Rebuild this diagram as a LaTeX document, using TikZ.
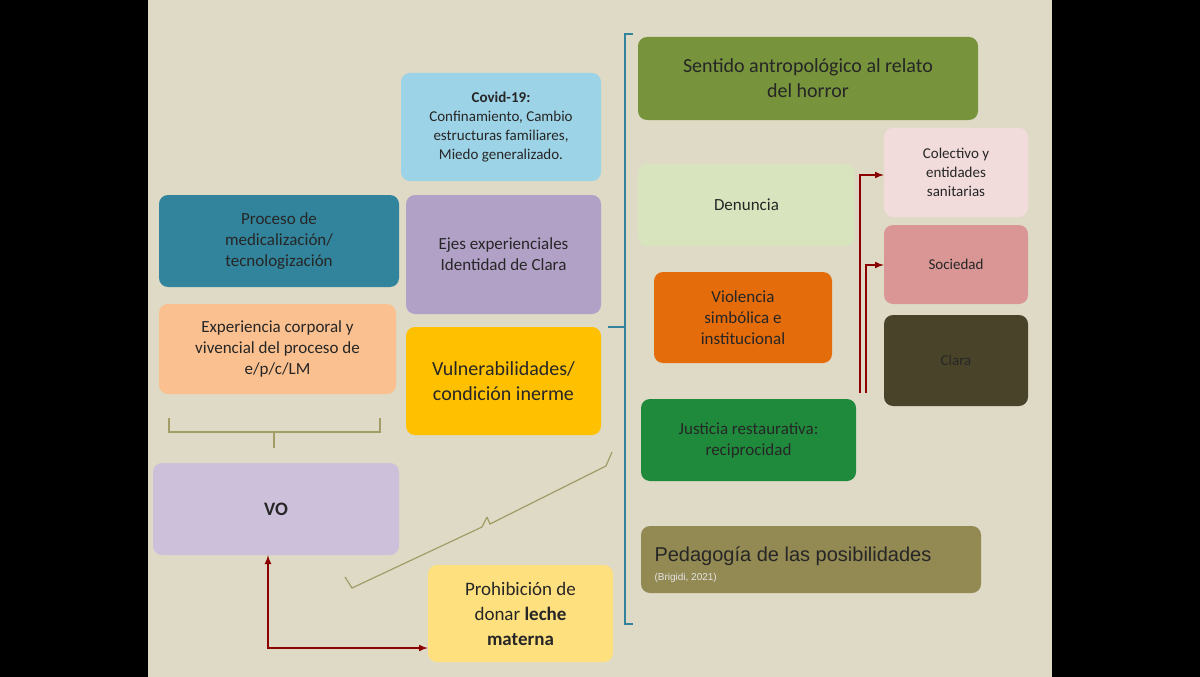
\documentclass[tikz,border=0pt]{standalone}
\usepackage{fontspec}
\setmainfont{Carlito}
\newfontfamily\arialf{Liberation Sans}
\begin{document}
\begin{tikzpicture}[x=1pt,y=-1pt,
  box/.style={rounded corners=9pt,draw=none,align=center,inner sep=2pt,font=\fontsize{17}{21}\selectfont,text=black!85},
  redarr/.style={draw=red!55!black,line width=2pt,-latex},
  brk/.style={draw=black!40!olive!60,line width=1.2pt}]
\fill[black] (0,0) rectangle (1200,677);
\fill[black!5!white!85!olive] (148,0) rectangle (1052,677);
\useasboundingbox (0,0) rectangle (1200,677);
\newcommand\bx[7]{\node[box,fill=#6,minimum width=#3-#1,minimum height=#4-#2,#7] (#5) at ({(#1+#3)/2},{(#2+#4)/2}) {};}
\definecolor{cblue}{HTML}{9DD3E6}\definecolor{cteal}{HTML}{31849B}
\definecolor{cpur}{HTML}{B2A1C7}\definecolor{cpeach}{HTML}{FBC08F}
\definecolor{cgold}{HTML}{FFC000}\definecolor{clav}{HTML}{CCC0DA}
\definecolor{cyel}{HTML}{FFE07F}\definecolor{colive}{HTML}{77933C}
\definecolor{cpale}{HTML}{D7E4BD}\definecolor{corange}{HTML}{E46C0A}
\definecolor{cgreen}{HTML}{1F8A3C}\definecolor{cped}{HTML}{938953}
\definecolor{cpink}{HTML}{F2DCDB}\definecolor{crose}{HTML}{D99694}
\definecolor{cdark}{HTML}{494429}\definecolor{cbg}{HTML}{DEDAC6}
\fill[cbg] (148,0) rectangle (1052,677);
\bx{401}{73}{601}{181}{covid}{cblue}{}
\node[font=\fontsize{15}{19}\selectfont,align=center,text=black!85] at (covid) {\textbf{Covid-19:}\\Confinamiento, Cambio\\estructuras familiares,\\Miedo generalizado.};
\bx{159}{195}{399}{287}{proc}{cteal}{}
\node[box] at (proc) {Proceso de\\medicalización/\\tecnologización};
\bx{406}{195}{601}{314}{ejes}{cpur}{}
\node[box] at (ejes) {Ejes experienciales\\Identidad de Clara};
\bx{159}{304}{396}{394}{exp}{cpeach}{}
\node[box] at (exp) {Experiencia corporal y\\vivencial del proceso de\\e/p/c/LM};
\bx{406}{327}{601}{435}{vul}{cgold}{}
\node[box,font=\fontsize{20}{25}\selectfont] at (vul) {Vulnerabilidades/\\condición inerme};
\bx{153}{463}{399}{555}{vo}{clav}{}
\node[box,font=\fontsize{19}{23}\selectfont\bfseries] at (vo) {VO};
\bx{428}{565}{613}{662}{proh}{cyel}{}
\node[box,font=\fontsize{19}{25}\selectfont] at (proh) {Prohibición de\\donar \textbf{leche}\\\textbf{materna}};
\bx{638}{37}{978}{120}{sent}{colive}{}
\node[box,font=\fontsize{20}{25}\selectfont] at (sent) {Sentido antropológico al relato\\del horror};
\bx{638}{164}{855}{246}{den}{cpale}{}
\node[box] at (den) {Denuncia};
\bx{654}{272}{832}{363}{viol}{corange}{}
\node[box] at (viol) {Violencia\\simbólica e\\institucional};
\bx{641}{399}{856}{481}{just}{cgreen}{}
\node[box] at (just) {Justicia restaurativa:\\reciprocidad};
\bx{641}{526}{981}{593}{ped}{cped}{}
\node[font=\arialf\fontsize{20}{24}\selectfont,text=black!85,anchor=west] at (651,556) {Pedagogía de las posibilidades};
\node[font=\arialf\fontsize{10}{12}\selectfont,text=white!90!black,anchor=west] at (651,578) {(Brigidi, 2021)};
\bx{884}{128}{1028}{217}{col}{cpink}{}
\node[box,font=\fontsize{15}{19}\selectfont] at (col) {Colectivo y\\entidades\\sanitarias};
\bx{884}{225}{1028}{304}{soc}{crose}{}
\node[box,font=\fontsize{15}{19}\selectfont] at (soc) {Sociedad};
\bx{884}{315}{1028}{406}{clara}{cdark}{}
\node[box,font=\fontsize{15}{19}\selectfont] at (clara) {Clara};
% brackets
\draw[brk] (169,418)--(169,432)--(380,432)--(380,418) (274,432)--(274,448);
\draw[brk] (345,577)--(352,588)--(482,527)--(487,517) (487,517)--(490,524)--(606,466)--(612,452);
\draw[draw=cteal,line width=1.5pt] (633,34)--(625,34)--(625,624)--(633,624) (608,327)--(625,327);
% red arrows
\coordinate (a1) at (860,393); \coordinate (a2) at (866,393);
\draw[redarr] (a1)--(860,175)--(col.west|-0,175);
\draw[redarr] (a2)--(866,265)--(soc.west|-0,265);
\draw[redarr,latex-latex] (vo.south-|268,0)--(268,648)--(proh.west|-0,648);
\end{tikzpicture}
\end{document}
